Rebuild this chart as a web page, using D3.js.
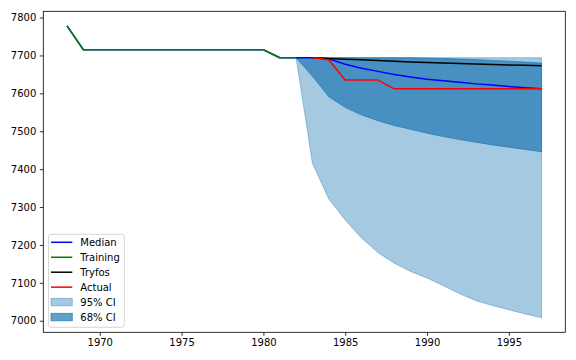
<!DOCTYPE html>
<html><head><meta charset="utf-8">
<script src="https://cdn.jsdelivr.net/npm/d3@7"></script>
<style>body{margin:0;background:#fff}svg{display:block;font-family:"DejaVu Sans",sans-serif}</style>
</head><body><svg id="c" width="576" height="360"></svg>
<script>
const trainYears = [1968,1969,1970,1971,1972,1973,1974,1975,1976,1977,1978,1979,1980,1981,1982];
const trainValues = [7778,7715,7715,7715,7715,7715,7715,7715,7715,7715,7715,7715,7715,7694,7694];
const fcYears = [1982,1983,1984,1985,1986,1987,1988,1989,1990,1991,1992,1993,1994,1995,1996,1997];
const medianValues = [7694,7694,7691,7677,7666,7658,7650,7643,7637,7633,7629,7625,7622,7618,7615,7612];
const lo95 = [7694,7415,7321,7266,7218,7180,7152,7130,7113,7092,7071,7053,7040,7029,7018,7008];
const hi95 = [7694,7694,7694,7694,7694,7694,7694,7694,7694,7694,7694,7694,7694,7694,7694,7694];
const lo68 = [7694,7645,7591,7563,7543,7528,7515,7505,7495,7486,7478,7471,7464,7458,7452,7446];
const hi68 = [7694,7694,7694,7694,7694,7694,7694,7694,7693,7692,7690.5,7689,7687,7685,7682.5,7680];
const obsYears = [1983,1984,1985,1986,1987,1988,1989,1990,1991,1992,1993,1994,1995,1996,1997];
const tryfosValues = [7694,7692,7690,7688.5,7687,7685,7683,7681.5,7680,7679,7677.5,7676,7675,7674,7672.5];
const actualValues = [7694.5,7688,7635,7635,7635,7612,7612,7612,7612,7612,7612,7612,7612,7612,7612];
const xTicks = [1970,1975,1980,1985,1990,1995];
const yTicks = [7000,7100,7200,7300,7400,7500,7600,7700,7800];

const svg = d3.select("#c");
const L=43.3, R=565.3, T=11.3, B=332.3;
const allX = trainYears.concat(fcYears);
const xmin=d3.min(allX), xmax=d3.max(allX), xm=(xmax-xmin)*0.05;
const allY = trainValues.concat(lo95, hi95, tryfosValues, actualValues);
const ymin=d3.min(allY), ymax=d3.max(allY), ym=(ymax-ymin)*0.05;
const x = d3.scaleLinear().domain([xmin-xm, xmax+xm]).range([L,R]);
const y = d3.scaleLinear().domain([ymin-ym, ymax+ym]).range([B,T]);

const blue="#1f77b4";
const band = (lo,hi)=>d3.area().x((d,i)=>x(fcYears[i])).y0((d,i)=>y(lo[i])).y1((d,i)=>y(hi[i]));
svg.append("path").attr("d",band(lo95,hi95)(fcYears)).attr("fill",blue).attr("fill-opacity",0.4)
  .attr("stroke",blue).attr("stroke-opacity",0.4).attr("stroke-width",1);
svg.append("path").attr("d",band(lo68,hi68)(fcYears)).attr("fill",blue).attr("fill-opacity",0.7)
  .attr("stroke",blue).attr("stroke-opacity",0.7).attr("stroke-width",1);

const line = (xs,vs)=>d3.line().x((d,i)=>x(xs[i])).y((d,i)=>y(vs[i]))(vs);
const medAllYears = trainYears.concat(fcYears.slice(1));
const medAllValues = trainValues.concat(medianValues.slice(1));
const series = [
  {name:"Median", color:"#0000ff", xs:medAllYears, vs:medAllValues},
  {name:"Training", color:"#008000", xs:trainYears, vs:trainValues},
  {name:"Tryfos", color:"#000000", xs:obsYears, vs:tryfosValues},
  {name:"Actual", color:"#ff0000", xs:obsYears, vs:actualValues}
];
series.forEach(s=>{
  svg.append("path").attr("d",line(s.xs,s.vs)).attr("fill","none").attr("stroke",s.color)
    .attr("stroke-width",1.5).attr("stroke-linejoin","round");
});

// axes
const gx = svg.append("g").attr("transform",`translate(0,${B})`)
  .call(d3.axisBottom(x).tickValues(xTicks).tickFormat(d3.format("d")).tickSize(3.5).tickPadding(3.5));
const gy = svg.append("g").attr("transform",`translate(${L},0)`)
  .call(d3.axisLeft(y).tickValues(yTicks).tickFormat(d3.format("d")).tickSize(3.5).tickPadding(3.5));
[gx,gy].forEach(g=>{
  g.select(".domain").remove();
  g.selectAll(".tick line").attr("stroke","#000").attr("stroke-width",0.8);
  g.selectAll(".tick text").attr("fill","#000").attr("font-size",10).attr("font-family","DejaVu Sans");
});
svg.append("rect").attr("x",L).attr("y",T).attr("width",R-L).attr("height",B-T)
  .attr("fill","none").attr("stroke","#000").attr("stroke-width",0.8);

// legend
const lg = svg.append("g");
lg.append("rect").attr("x",48.5).attr("y",234.3).attr("width",75.8).attr("height",93)
  .attr("rx",2.5).attr("fill","#fff").attr("fill-opacity",0.8).attr("stroke","#cccccc").attr("stroke-width",0.8);
const ly0=242.3, dy=14.95;
series.forEach((s,i)=>{
  const yy=ly0+i*dy;
  lg.append("line").attr("x1",51).attr("x2",72.3).attr("y1",yy).attr("y2",yy)
    .attr("stroke",s.color).attr("stroke-width",1.5);
  lg.append("text").attr("x",80.3).attr("y",yy+3.6).attr("font-size",10).text(s.name);
});
[["95% CI",0.4],["68% CI",0.7]].forEach((p,j)=>{
  const yy=ly0+(4+j)*dy;
  lg.append("rect").attr("x",51).attr("y",yy-3.7).attr("width",21.3).attr("height",7.4)
    .attr("fill",blue).attr("fill-opacity",p[1]).attr("stroke",blue).attr("stroke-opacity",p[1]).attr("stroke-width",1);
  lg.append("text").attr("x",80.3).attr("y",yy+3.6).attr("font-size",10).text(p[0]);
});
</script></body></html>
